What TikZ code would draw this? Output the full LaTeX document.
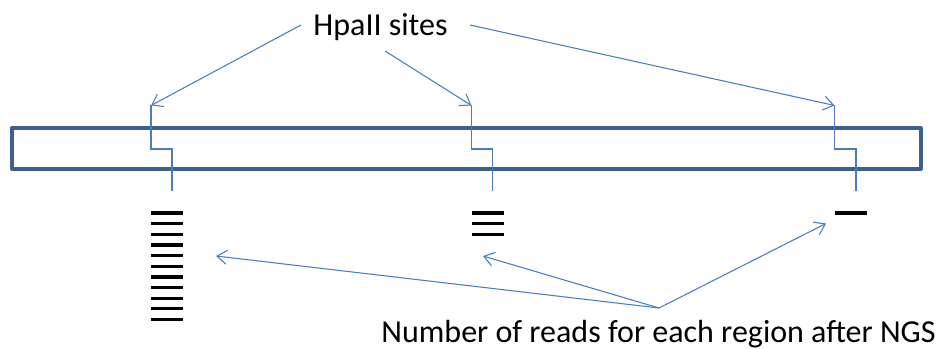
\documentclass[tikz,border=0pt]{standalone}
\usepackage{fontspec}
\setmainfont{Carlito}
\usetikzlibrary{arrows.meta}
\definecolor{boxblue}{HTML}{3F5F8C}
\definecolor{lineblue}{HTML}{4A7EBB}
\begin{document}
\begin{tikzpicture}[x=0.75pt,y=-0.75pt,
  conn/.style={draw=lineblue,line width=0.8pt},
  arr/.style={conn,-{Straight Barb[length=7.5pt,width=10.5pt,line width=0.8pt]}},
  stepline/.style={draw=lineblue,line width=0.8pt},
  readbar/.style={draw=black,line width=2.4pt},
  label/.style={font=\fontsize{24pt}{28pt}\selectfont,inner sep=0pt,anchor=base}]
\useasboundingbox (0,0) rectangle (938,349);
% chromosome box
\draw[boxblue,line width=2.4pt,line join=round] (12,128) rectangle (921,169);
% labels
\node[label] (hp) at (380.5,36) {HpaII sites};
\node[label] (ngs) at (658.5,342.5) {Number of reads for each region after NGS};
% site coordinates
\coordinate (t1) at (151,105.5);
\coordinate (t2) at (471.5,105.5);
\coordinate (t3) at (834.5,105.5);
\coordinate (s1) at (301,25);
\coordinate (s2) at (385,51);
\coordinate (s3) at (470,25);
% step lines (cut sites)
\draw[stepline] (t1) -- (151,149) -- (172,149) -- (172,191);
\draw[stepline] (t2) -- (471.5,149) -- (492.5,149) -- (492.5,191);
\draw[stepline] (t3) -- (834.5,149) -- (856,149) -- (856,191);
% top arrows
\draw[arr] (s1) -- (t1);
\draw[arr] (s2) -- (t2);
\draw[arr] (s3) -- (t3);
% read bars
\foreach \k in {0,...,10} \draw[readbar] (151,213+\k*10.65) -- (183,213+\k*10.65);
\foreach \k in {0,...,2} \draw[readbar] (472,213+\k*10.65) -- (504,213+\k*10.65);
\draw[readbar] (835,213) -- (867,213);
% bottom arrows
\coordinate (c) at (659,308);
\coordinate (b1) at (216,256);
\coordinate (b2) at (483,256);
\coordinate (b3) at (826,223.5);
\draw[arr] (c) -- (b1);
\draw[arr] (c) -- (b2);
\draw[arr] (c) -- (b3);
\end{tikzpicture}
\end{document}
